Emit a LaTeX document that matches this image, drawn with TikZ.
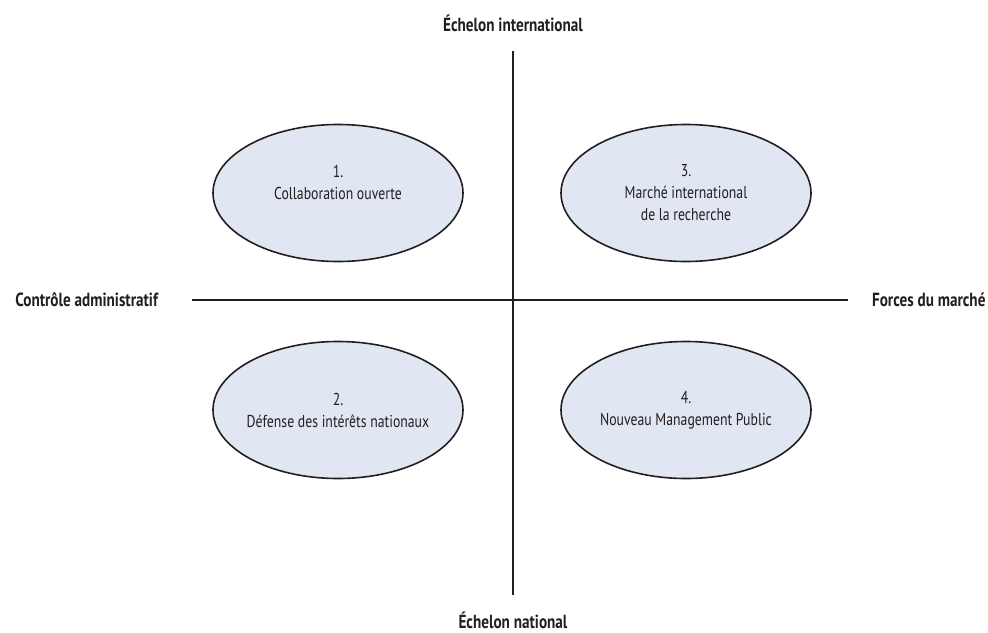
\documentclass[tikz,border=0pt]{standalone}
\usepackage{fontspec}
\setmainfont{PT Sans}[FakeStretch=0.8]
\usetikzlibrary{positioning,shapes.geometric}
\definecolor{quadfill}{RGB}{225,230,243}
\definecolor{ink}{RGB}{35,31,32}
\begin{document}
\begin{tikzpicture}[x=0.5pt, y=0.5pt, node distance=8pt]
        \tikzstyle{quad} = [ellipse, draw=ink, line width=0.8pt, fill=quadfill, inner xsep=-4pt, minimum width=125pt, minimum height=68.5pt, align=center, text=ink, font=\fontsize{8.6}{11}\selectfont]
        \tikzstyle{axis} = [text=ink, font=\fontsize{9.5}{11}\selectfont\bfseries]
        \tikzstyle{line} = [draw=ink, line width=1pt]
        \useasboundingbox (-513,300) rectangle (475,-332);
        \coordinate (o) at (0,0);
        \coordinate (top) at (0,249);
        \coordinate (bot) at (0,-295);
        \coordinate (lft) at (-321,0);
        \coordinate (rgt) at (335,0);
        \path [line] (top) -- (bot);
        \path [line] (lft) -- (rgt);
        \node [axis, above=6pt of top] (intl) {Échelon international};
        \node [axis, below=5pt of bot] (natl) {Échelon national};
        \node [axis, left=13.5pt of lft] (admin) {Contrôle administratif};
        \node [axis, right=8.5pt of rgt] (market) {Forces du marché};
        \node [quad] (q1) at (-175,107) {1.\\Collaboration ouverte\\\mbox{}};
        \node [quad] (q3) at (173,107) {3.\\Marché international\\de la recherche};
        \node [quad] (q2) at (-175,-110) {2.\\Défense des intérêts nationaux};
        \node [quad] (q4) at (173,-110) {4.\\Nouveau Management Public};
    \end{tikzpicture}
\end{document}
